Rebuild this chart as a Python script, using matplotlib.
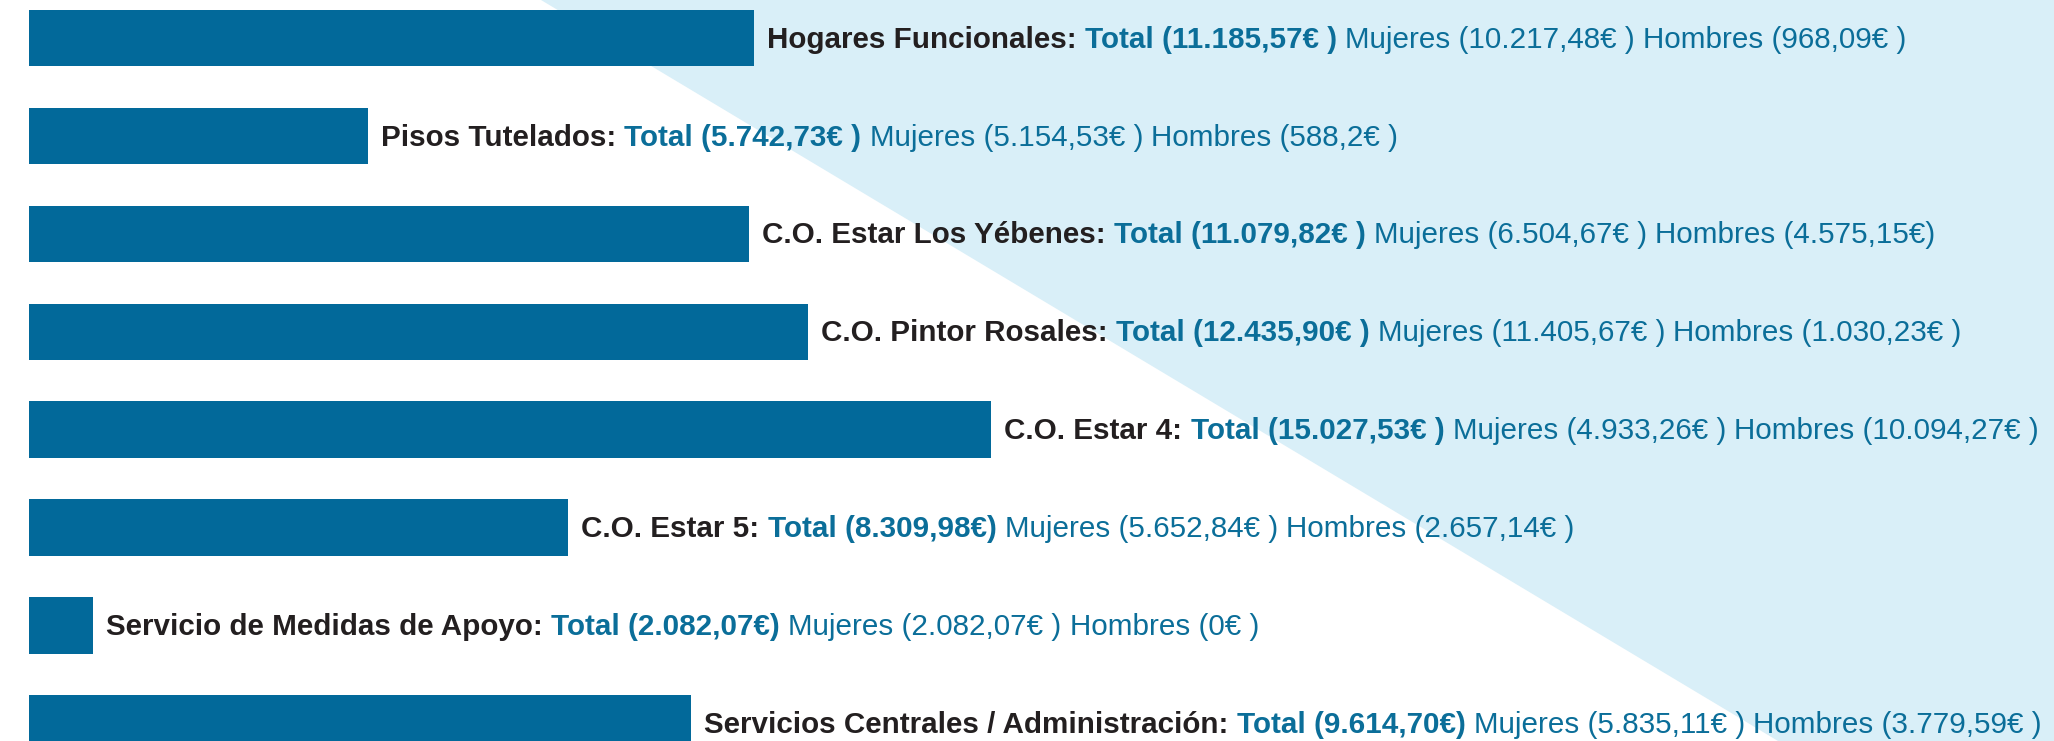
import matplotlib
matplotlib.use("Agg")
import matplotlib.pyplot as plt
from matplotlib import font_manager
from matplotlib.offsetbox import TextArea, HPacker, AnnotationBbox
from matplotlib.patches import Polygon

# ---- data ----
categories = [
    "Hogares Funcionales",
    "Pisos Tutelados",
    "C.O. Estar Los Yébenes",
    "C.O. Pintor Rosales",
    "C.O. Estar 4",
    "C.O. Estar 5",
    "Servicio de Medidas de Apoyo",
    "Servicios Centrales / Administración",
]
total_labels = [
    "(11.185,57€ )", "(5.742,73€ )", "(11.079,82€ )", "(12.435,90€ )",
    "(15.027,53€ )", "(8.309,98€)", "(2.082,07€)", "(9.614,70€)",
]
mujeres_labels = [
    "(10.217,48€ )", "(5.154,53€ )", "(6.504,67€ )", "(11.405,67€ )",
    "(4.933,26€ )", "(5.652,84€ )", "(2.082,07€ )", "(5.835,11€ )",
]
hombres_labels = [
    "(968,09€ )", "(588,2€ )", "(4.575,15€)", "(1.030,23€ )",
    "(10.094,27€ )", "(2.657,14€ )", "(0€ )", "(3.779,59€ )",
]
# bar lengths as drawn in the picture (in €)
bar_values = [11190, 5230, 11110, 12020, 14850, 8320, 990, 10220]

# ---- style ----
BAR = "#02699a"
TXT_BLUE = "#0b6e99"
TXT_DARK = "#231f20"
BG = "#d9eff8"

def pick_font():
    for name in ["Liberation Sans", "Arial", "DejaVu Sans"]:
        try:
            font_manager.findfont(name, fallback_to_default=False)
            return name
        except Exception:
            continue
    return "DejaVu Sans"

FONT = [pick_font(), "DejaVu Sans"]
FS = 21.3

W, H = 2054, 741
fig = plt.figure(figsize=(W / 100, H / 100), dpi=100)
fig.patch.set_facecolor("white")

left = 29 / W
ax = fig.add_axes([left, 0, 1 - left, 1])
ax.set_facecolor("none")
ax.set_xlim(0, (W - 29) / 0.0648)
ax.set_ylim(7.18, -0.388)
ax.axis("off")

# light blue diagonal background
poly = Polygon([(541 / W, 1), (1, 1), (1, 0), (1778 / W, 0)], closed=True,
               transform=fig.transFigure, facecolor=BG, edgecolor="none",
               zorder=0, clip_on=False)
ax.add_patch(poly)

y = list(range(len(categories)))
ax.barh(y, bar_values, height=0.575, color=BAR, zorder=2)

for i, cat in enumerate(categories):
    parts = [
        TextArea(cat + ":", textprops=dict(color=TXT_DARK, fontweight="bold", fontsize=FS, family=FONT)),
        TextArea("Total " + total_labels[i], textprops=dict(color=TXT_BLUE, fontweight="bold", fontsize=FS, family=FONT)),
        TextArea("Mujeres " + mujeres_labels[i], textprops=dict(color=TXT_BLUE, fontsize=FS, family=FONT)),
        TextArea("Hombres " + hombres_labels[i], textprops=dict(color=TXT_BLUE, fontsize=FS, family=FONT)),
    ]
    pack = HPacker(children=parts, align="baseline", pad=0, sep=0.278 * FS)
    ab = AnnotationBbox(pack, (bar_values[i], i), xybox=(9.4, -1.2),
                        xycoords="data", boxcoords="offset points",
                        box_alignment=(0, 0.5), frameon=False, pad=0, zorder=3)
    ax.add_artist(ab)

fig.savefig("out.png", dpi=100, facecolor="white")
